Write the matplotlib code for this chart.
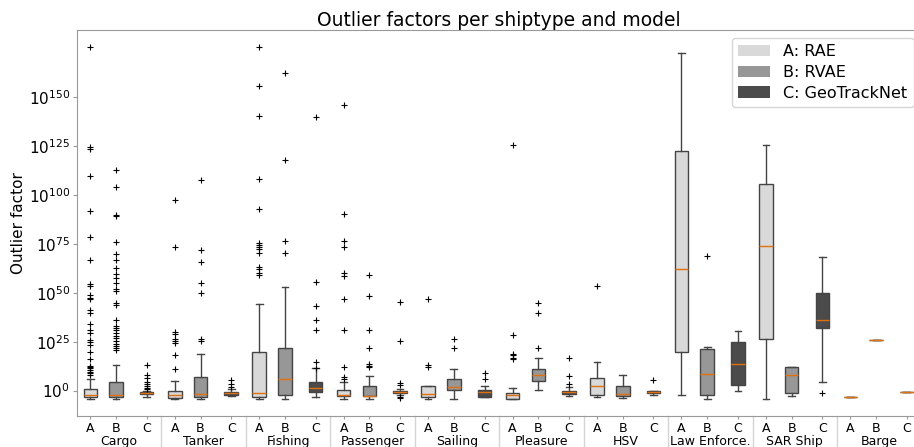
import matplotlib
matplotlib.use('Agg')
import matplotlib.pyplot as plt
from matplotlib.patches import Patch
from matplotlib.ticker import FixedLocator, LogFormatterSciNotation, NullLocator

groups = ['Cargo', 'Tanker', 'Fishing', 'Passenger', 'Sailing', 'Pleasure',
          'HSV', 'Law Enforce.', 'SAR Ship', 'Barge']
letters = ['A', 'B', 'C']
model_names = ['A: RAE', 'B: RVAE', 'C: GeoTrackNet']
colors = ['#d9d9d9', '#979797', '#4b4b4b']

# all values are log10 of the outlier factor
rae_whislo = [-4.4, -4.4, -4.4, -4.4, -4.4, -4.4, -3.2, -2.4, -4.2, -3.4]
rae_q1 = [-3.4, -3.9, -3.4, -2.9, -3.4, -4.4, -2.2, 19.9, 26.4, -3.4]
rae_med = [-2.4, -2.4, -1.0, -2.2, -1.7, -2.4, 2.4, 62.4, 74.1, -3.4]
rae_q3 = [0.7, -0.3, 19.6, 0.4, 2.2, -1.3, 6.3, 122.7, 105.5, -3.4]
rae_whishi = [5.8, 4.8, 44.3, 4.6, 2.2, 1.4, 14.8, 172.5, 125.8, -3.4]
rae_fliers = [
    [175.7, 124.6, 123.5, 109.6, 91.7, 78.4, 66.6, 54.5, 53.7, 48.7, 47.5, 46.7,
     41.2, 39.5, 34.1, 31.0, 29.3, 25.9, 24.9, 23.2, 19.6, 16.0, 12.6, 12.3,
     11.6, 10.6, 9.5, 8.9, 8.2],
    [97.5, 73.6, 29.8, 28.8, 26.2, 25.2, 24.2, 18.1, 10.9],
    [175.7, 155.6, 140.4, 108.0, 92.7, 75.3, 74.5, 73.6, 72.3, 70.6, 63.4, 62.4,
     60.0, 59.0],
    [145.9, 90.5, 76.5, 73.6, 60.0, 58.5, 46.9, 30.8, 11.8, 6.8, 5.9],
    [46.9, 13.1, 11.8],
    [125.8, 28.3, 18.9, 18.1, 16.9, 16.1],
    [53.4],
    [], [], [],
]

rvae_whislo = [-4.4, -4.4, -4.4, -4.4, -4.4, 0.2, -3.9, -4.2, -2.7, 25.8]
rvae_q1 = [-3.4, -3.4, -2.4, -2.9, 0.2, 4.8, -2.9, -2.4, -1.3, 25.8]
rvae_med = [-2.2, -1.7, 6.0, -2.7, 1.9, 7.9, -1.7, 8.5, 8.2, 25.8]
rvae_q3 = [4.3, 7.0, 21.7, 2.2, 6.1, 10.9, 2.2, 21.2, 11.8, 25.8]
rvae_whishi = [13.0, 18.9, 52.8, 7.2, 10.9, 16.9, 7.9, 22.2, 11.8, 25.8]
rvae_fliers = [
    [112.6, 104.3, 90.0, 89.5, 76.0, 69.9, 66.6, 62.9, 59.6, 57.6, 55.2, 52.1,
     51.1, 45.0, 43.8, 36.1, 33.1, 32.0, 31.0, 29.3, 28.1, 26.8, 25.2, 24.0,
     23.0, 22.0, 20.8],
    [107.5, 72.1, 65.6, 55.2, 49.8, 26.3, 25.1],
    [162.6, 117.8, 76.5, 70.2],
    [59.3, 48.4, 31.2, 22.0, 13.5, 12.7, 11.8],
    [26.6, 21.8],
    [44.7, 39.9, 21.8],
    [],
    [68.7],
    [], [],
]

gtn_whislo = [-3.4, -2.6, -3.4, -2.2, -3.2, -2.9, -2.2, -0.2, 4.4, -0.5]
gtn_q1 = [-2.0, -2.4, -0.7, -1.5, -3.2, -1.7, -1.3, 2.6, 31.9, -0.5]
gtn_med = [-1.3, -1.5, 1.2, -0.9, -0.5, -0.7, -0.7, 13.8, 36.3, -0.5]
gtn_q3 = [-0.7, -0.7, 4.3, -0.4, 0.2, 0.0, 0.0, 24.7, 49.8, -0.5]
gtn_whishi = [0.0, 0.8, 11.3, 0.7, 2.2, 1.6, 0.0, 30.5, 68.4, -0.5]
gtn_fliers = [
    [13.0, 7.9, 6.2, 4.5, 3.3, 2.3, 1.4, 0.7],
    [5.2, 3.3, 2.0],
    [139.7, 55.7, 43.3, 36.0, 31.2, 14.5, 11.6],
    [45.2, 25.2, 3.7, 2.6, -3.3, -4.0],
    [9.2, 5.8],
    [16.9, 7.2, 3.4],
    [5.3],
    [], [-1.5], [],
]

models = [
    (rae_whislo, rae_q1, rae_med, rae_q3, rae_whishi, rae_fliers),
    (rvae_whislo, rvae_q1, rvae_med, rvae_q3, rvae_whishi, rvae_fliers),
    (gtn_whislo, gtn_q1, gtn_med, gtn_q3, gtn_whishi, gtn_fliers),
]
offsets = [0.158, 0.463, 0.826]

fig = plt.figure(figsize=(9.14, 4.47), dpi=100)
ax = fig.add_axes([0.0842, 0.0694, 0.924, 0.8635])

edge = '#444444'
for m, (lo, q1, med, q3, hi, fl) in enumerate(models):
    stats = []
    for g in range(len(groups)):
        stats.append(dict(whislo=10.0 ** lo[g], q1=10.0 ** q1[g], med=10.0 ** med[g],
                          q3=10.0 ** q3[g], whishi=10.0 ** hi[g],
                          fliers=[10.0 ** v for v in fl[g]]))
    pos = [g + offsets[m] for g in range(len(groups))]
    ax.bxp(stats, positions=pos, widths=0.16, patch_artist=True,
           boxprops=dict(facecolor=colors[m], edgecolor=edge, linewidth=1),
           whiskerprops=dict(color=edge, linewidth=1),
           capprops=dict(color=edge, linewidth=1),
           medianprops=dict(color='#e07010', linewidth=1),
           flierprops=dict(marker='+', markeredgecolor='black', markersize=3.8,
                           markeredgewidth=0.8))

ax.set_yscale('log')
ax.set_ylim(10.0 ** -13, 10.0 ** 184.4)
ax.yaxis.set_major_locator(FixedLocator([10.0 ** k for k in range(0, 151, 25)]))
ax.yaxis.set_major_formatter(LogFormatterSciNotation())
ax.yaxis.set_minor_locator(NullLocator())

xt = [g + offsets[m] for g in range(len(groups)) for m in range(3)]
ax.set_xticks(xt)
ax.set_xticklabels(letters * len(groups), fontsize=9)
ax.set_xlim(0, len(groups))
ax.tick_params(axis='x', length=2.5, pad=2, color='#999999')
ax.tick_params(axis='y', labelsize=11, length=3, pad=2, color='#999999')

for s in ax.spines.values():
    s.set_color('#999999')

# group names and separators under the A/B/C ticks
trans = ax.get_xaxis_transform()
for g, name in enumerate(groups):
    ax.annotate(name, xy=(g + 0.5, 0), xycoords=trans, xytext=(0, -13.5),
                textcoords='offset points', ha='center', va='top', fontsize=9)
    if g > 0:
        ax.plot([g, g], [0, -0.1], transform=trans, color='#d5d5d5',
                linewidth=1, clip_on=False)

ax.set_ylabel('Outlier factor', fontsize=11, labelpad=2)
ax.set_title('Outlier factors per shiptype and model', fontsize=13.5, pad=3)

handles = [Patch(facecolor=c, edgecolor='none', label=n) for c, n in zip(colors, model_names)]
ax.legend(handles=handles, loc='upper right', fontsize=11.5, labelspacing=0.35)

fig.savefig('out.png', dpi=100)
